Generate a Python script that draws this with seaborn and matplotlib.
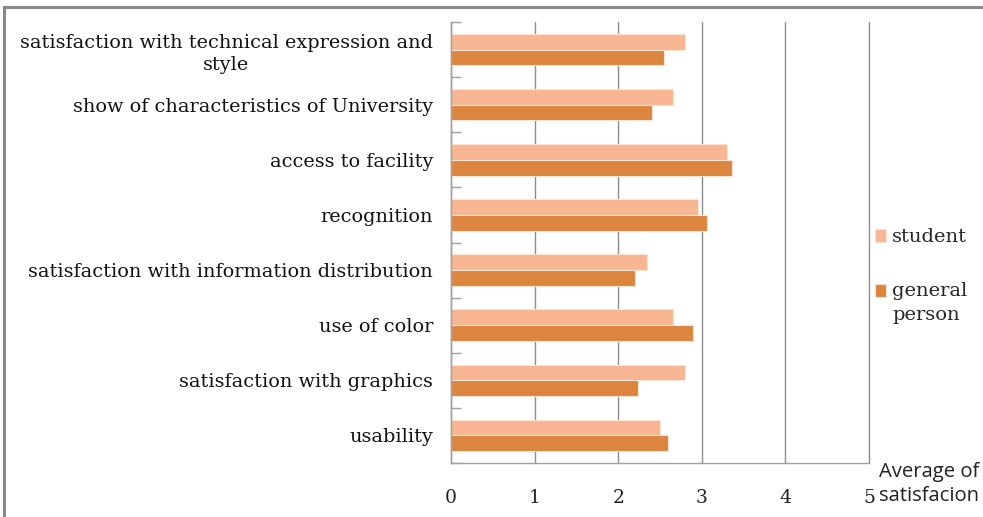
import matplotlib
matplotlib.use("Agg")
import matplotlib.pyplot as plt
from matplotlib.patches import Rectangle, Patch
import numpy as np
import pandas as pd
import seaborn as sns

# Survey items, top to bottom
categories = [
    "satisfaction with technical expression and style",
    "show of characteristics of University",
    "access to facility",
    "recognition",
    "satisfaction with information distribution",
    "use of color",
    "satisfaction with graphics",
    "usability",
]
student = [2.80, 2.66, 3.30, 2.95, 2.35, 2.65, 2.80, 2.50]
general_person = [2.55, 2.41, 3.36, 3.06, 2.20, 2.90, 2.24, 2.59]

groups = ["student", "general person"]
x_ticks = [0, 1, 2, 3, 4, 5]
axis_title = "Average of\nsatisfacion"

df = pd.DataFrame({
    "item": categories * 2,
    "score": student + general_person,
    "group": [groups[0]] * len(categories) + [groups[1]] * len(categories),
})

sns.set_theme(style="white")
plt.rcParams["font.family"] = ["DejaVu Serif"]

W, H = 983, 517
fig = plt.figure(figsize=(W / 100, H / 100), dpi=100)
ax = fig.add_axes([451 / W, 1 - 463 / H, (869 - 451) / W, (463 - 22) / H])

palette = {"student": "#F8B591", "general person": "#DC853F"}
sns.barplot(data=df, y="item", x="score", hue="group", order=categories,
            hue_order=groups, palette=palette, orient="h", width=0.57,
            edgecolor="#FCE3D4", linewidth=0.8, saturation=1, ax=ax,
            legend=False)

ax.set_xlim(0, 5)
ax.set_ylim(len(categories) - 0.5, -0.5)
ax.set_xlabel("")
ax.set_ylabel("")

# vertical gridlines
ax.set_xticks(x_ticks)
ax.xaxis.grid(True, color="#8C8C8C", linewidth=1)
for gl in ax.get_xgridlines():
    gl.set_clip_on(False)
ax.set_axisbelow(True)
ax.tick_params(axis="x", length=0, pad=19, labelsize=13.5, labelcolor="#222222")

# category labels at centres, tick marks at category boundaries
ax.set_yticks(np.arange(len(categories)))
labels = [c if c != categories[0] else "satisfaction with technical expression and\nstyle"
          for c in categories]
ax.set_yticklabels(labels)
for t in ax.get_yticklabels():
    t.set_multialignment("center")
    t.set_linespacing(1.35)
ax.tick_params(axis="y", which="major", length=0, pad=13, labelsize=13.9,
               labelcolor="#111111")
ax.set_yticks(np.arange(-0.5, len(categories), 1.0), minor=True)
ax.tick_params(axis="y", which="minor", direction="in", length=7,
               color="#A0A0A0", width=1, left=True)

for side in ["top", "right"]:
    ax.spines[side].set_visible(False)
for side in ["left", "bottom"]:
    ax.spines[side].set_color("#A0A0A0")
    ax.spines[side].set_linewidth(1)

# legend on the right
handles = [Patch(facecolor=palette[g], edgecolor="#FCE3D4", linewidth=0.8) for g in groups]
leg_labels = ["student", "general\nperson"]
leg = fig.legend(handles, leg_labels, loc="upper left",
                 bbox_to_anchor=(857 / W, 1 - 211 / H), frameon=False,
                 fontsize=14, handlelength=0.6, handleheight=0.6,
                 handletextpad=0.3, labelspacing=1.8)
for t in leg.get_texts():
    t.set_linespacing(1.5)
# align the two-line entry's swatch with its first line
h2 = leg.legend_handles[1]
h2.set_y(h2.get_y() + 9)

# axis title under the right end
fig.text(929 / W, 1 - 484 / H, axis_title, ha="center", va="center",
         fontsize=14.6, family=["Open Sans", "DejaVu Sans"], color="#222222",
         linespacing=1.3)

# outer frame
fig.patches.append(Rectangle((4 / W, -0.2), 1.2, 1.2 - 7 / H,
                             transform=fig.transFigure, fill=False,
                             edgecolor="#888888", linewidth=2.2))

fig.savefig("out.png", dpi=100)
